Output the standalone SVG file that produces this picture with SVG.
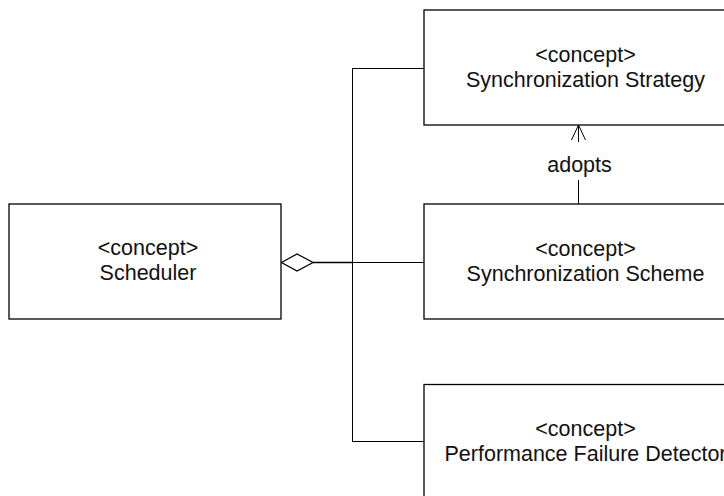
<svg xmlns="http://www.w3.org/2000/svg" width="724" height="496" viewBox="0 0 724 496">
  <style>
    .box { fill: #ffffff; stroke: #000000; stroke-width: 1.3; }
    .label { font-family: "Liberation Sans", Arial, sans-serif; font-size: 21.5px; fill: #111111; text-anchor: middle; }
    .line { fill: none; stroke: #000000; stroke-width: 1; }
  </style>
  <rect width="724" height="496" fill="#ffffff"/>

  <g id="connectors">
    <!-- aggregation bus from Scheduler -->
    <polygon points="281.5,262.5 297,254 313,262.5 297,271" fill="#ffffff" stroke="#000000" stroke-width="1.3"/>
    <line x1="313" y1="262.5" x2="352" y2="262.5" stroke="#000000" stroke-width="1.6"/>
    <line class="line" x1="352" y1="262.5" x2="424" y2="262.5"/>
    <line class="line" x1="352.5" y1="68" x2="352.5" y2="441"/>
    <line class="line" x1="352" y1="68.5" x2="424" y2="68.5"/>
    <line class="line" x1="352" y1="441.5" x2="424" y2="441.5"/>
    <!-- adopts dependency -->
    <line class="line" x1="578.5" y1="204" x2="578.5" y2="180"/>
    <line class="line" x1="578.5" y1="142" x2="578.5" y2="125"/>
    <polyline class="line" points="571.5,140 578.5,125 585.5,140"/>
    <text class="label" x="579.5" y="172">adopts</text>
  </g>

  <g id="scheduler">
    <rect class="box" x="9" y="204" width="272" height="115"/>
    <text class="label" x="148" y="255">&lt;concept&gt;</text>
    <text class="label" x="148" y="280">Scheduler</text>
  </g>

  <g id="synchronization-strategy">
    <rect class="box" x="424" y="10" width="330" height="115"/>
    <text class="label" x="585.5" y="62">&lt;concept&gt;</text>
    <text class="label" x="585.5" y="87">Synchronization Strategy</text>
  </g>

  <g id="synchronization-scheme">
    <rect class="box" x="424" y="204" width="330" height="115"/>
    <text class="label" x="585.5" y="256">&lt;concept&gt;</text>
    <text class="label" x="585.5" y="281">Synchronization Scheme</text>
  </g>

  <g id="performance-failure-detector">
    <rect class="box" x="424" y="384.5" width="330" height="130"/>
    <text class="label" x="585.5" y="436">&lt;concept&gt;</text>
    <text class="label" x="585.5" y="461">Performance Failure Detector</text>
  </g>
</svg>
